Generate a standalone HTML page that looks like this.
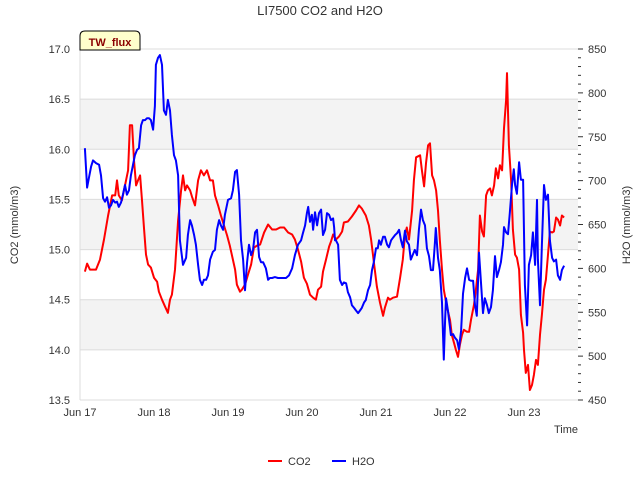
<!DOCTYPE html>
<html><head><meta charset="utf-8"><style>
body{margin:0;background:#fff;}
svg{display:block;font-family:"Liberation Sans",sans-serif;}
</style></head><body>
<svg width="640" height="480" id="chart">
<rect width="640" height="480" fill="#fff"/>
<text x="320" y="15" text-anchor="middle" font-size="13" fill="#333">LI7500 CO2 and H2O</text>
<g id="bands"></g>
<g id="axes"></g>
<g id="series"></g>
<g>
<path d="M80,50 L80,36 Q80,31 85,31 L135,31 Q140,31 140,36 L140,50 Z" fill="#ffffcc" stroke="#000" stroke-width="1"/>
<text x="110" y="46" text-anchor="middle" font-size="11" font-weight="bold" fill="#8b0000">TW_flux</text>
</g>
<text transform="translate(18,225) rotate(-90)" text-anchor="middle" font-size="11" fill="#333">CO2 (mmol/m3)</text>
<text transform="translate(630,225) rotate(-90)" text-anchor="middle" font-size="11" fill="#333">H2O (mmol/m3)</text>
<text x="578" y="433" text-anchor="end" font-size="11" fill="#333">Time</text>
<g>
<g><line x1="268" y1="461" x2="282" y2="461" stroke="#f00" stroke-width="2"/><text x="288" y="465" font-size="11" fill="#333">CO2</text></g>
<g><line x1="332" y1="461" x2="346" y2="461" stroke="#00f" stroke-width="2"/><text x="352" y="465" font-size="11" fill="#333">H2O</text></g>
</g>
</svg>
<script>
const xTicks=["Jun 17","Jun 18","Jun 19","Jun 20","Jun 21","Jun 22","Jun 23"];
const leftTicks=[13.5,14.0,14.5,15.0,15.5,16.0,16.5,17.0];
const rightTicks=[450,500,550,600,650,700,750,800,850];
const co2Hours=[1.6,2.3,3.2,5.2,6.5,7.8,9.1,10.4,11.4,12.0,12.6,13.6,14.6,15.6,16.2,16.9,17.5,18.2,18.8,19.5,20.1,20.8,21.4,22.1,23.0,24.0,25.0,25.6,26.6,27.6,28.5,29.2,29.8,30.8,31.8,32.8,33.4,34.1,34.7,35.7,36.3,37.3,38.3,39.2,40.2,41.2,42.2,43.1,43.8,44.8,45.7,46.7,47.7,48.6,49.6,50.3,50.9,51.9,52.5,53.5,54.5,55.5,56.4,57.4,58.4,59.7,61.0,62.3,63.6,64.9,66.2,67.5,68.8,69.7,70.7,71.7,72.6,73.6,74.6,75.6,76.5,77.2,78.2,78.8,79.8,80.8,81.4,82.1,83.0,84.0,85.0,85.6,86.9,88.2,89.5,90.5,91.4,92.7,93.7,94.4,95.3,96.3,97.3,98.3,98.9,99.9,100.5,101.5,102.8,103.8,104.7,105.4,106.0,106.7,107.7,108.3,109.0,110.3,110.9,111.6,112.2,112.9,113.5,114.2,114.8,115.5,116.1,116.7,117.4,118.0,119.0,120.0,120.6,121.3,121.9,122.6,123.2,123.9,124.5,125.5,126.2,126.8,127.8,128.4,129.1,129.7,130.4,131.0,131.7,132.3,133.0,133.6,134.3,134.9,135.6,136.2,136.9,137.5,138.2,138.5,139.1,139.8,140.4,141.1,141.7,142.4,143.0,143.7,144.0,144.6,145.3,145.9,146.6,147.2,147.9,148.5,149.2,149.8,150.5,151.1,151.8,152.4,153.1,153.7,154.4,155.0,155.7,156.3,157.0];
const co2Values=[14.78,14.86,14.80,14.80,14.90,15.10,15.34,15.54,15.54,15.69,15.54,15.49,15.64,15.79,16.24,16.24,15.89,15.64,15.69,15.74,15.49,15.20,14.95,14.85,14.82,14.72,14.68,14.58,14.50,14.43,14.37,14.50,14.55,14.80,15.29,15.59,15.74,15.59,15.64,15.59,15.53,15.44,15.69,15.79,15.74,15.79,15.69,15.69,15.54,15.44,15.34,15.24,15.14,15.04,14.90,14.80,14.65,14.58,14.60,14.65,14.75,14.85,15.02,15.04,15.05,15.17,15.25,15.20,15.20,15.22,15.22,15.17,15.15,15.10,15.00,14.88,14.72,14.66,14.55,14.52,14.50,14.60,14.63,14.78,14.90,15.03,15.08,15.15,15.10,15.13,15.18,15.27,15.28,15.33,15.39,15.44,15.41,15.34,15.24,15.10,14.88,14.63,14.47,14.34,14.42,14.52,14.50,14.52,14.53,14.72,14.90,15.15,15.22,15.10,15.39,15.69,15.92,15.94,15.79,15.63,15.86,16.04,16.06,15.74,15.69,15.59,15.39,15.10,14.80,14.60,14.43,14.30,14.15,14.07,14.00,13.93,14.05,14.15,14.20,14.18,14.18,14.30,14.45,14.60,14.80,15.34,15.18,15.13,15.54,15.59,15.61,15.54,15.64,15.81,15.71,15.84,15.79,16.21,16.49,16.76,16.04,15.69,15.20,14.95,14.92,14.80,14.35,14.17,14.00,13.77,13.85,13.60,13.65,13.75,13.90,13.85,14.15,14.35,14.60,14.70,14.95,15.18,15.17,15.18,15.32,15.30,15.24,15.34,15.32];
const h2oHours=[1.6,2.3,2.9,3.6,4.2,5.2,6.2,6.8,7.5,8.1,8.8,9.4,10.1,10.7,11.4,12.0,12.6,13.3,13.9,14.6,15.2,15.9,16.5,17.2,17.8,18.5,19.1,19.8,20.4,21.1,21.7,22.4,23.0,23.7,24.3,24.6,25.3,25.9,26.6,27.2,27.9,28.5,29.2,29.8,30.5,31.1,31.8,32.4,33.4,34.4,35.0,35.7,36.3,37.0,37.6,38.3,38.9,39.6,40.2,40.9,41.5,42.2,43.1,43.8,44.4,45.1,45.7,46.4,47.0,48.0,49.0,49.6,50.3,50.9,51.6,52.2,52.9,53.5,54.2,54.8,55.5,56.1,56.8,57.4,58.1,58.7,59.4,60.3,61.0,61.6,62.3,63.2,64.2,65.5,66.8,67.8,68.8,69.7,70.7,71.7,72.3,73.0,73.6,74.0,74.6,75.2,75.6,76.2,76.9,77.5,78.2,78.8,79.5,80.1,80.8,81.4,82.1,82.4,82.7,83.0,83.7,84.3,85.0,85.6,86.3,86.9,87.6,88.2,88.9,89.5,90.2,90.8,91.4,92.1,92.7,93.4,94.1,94.7,95.3,96.0,96.6,97.0,97.6,98.3,98.9,99.6,100.2,100.9,101.5,102.2,102.8,103.5,104.1,104.7,105.4,106.0,106.7,107.3,108.0,108.6,109.3,109.9,110.6,111.2,111.9,112.5,113.2,113.8,114.5,115.1,115.4,116.1,116.7,117.4,118.0,118.4,118.7,119.3,120.0,120.3,121.0,121.6,122.3,122.9,123.6,124.2,124.9,125.5,126.2,126.8,127.5,128.1,128.7,129.1,129.4,130.0,130.7,131.3,132.0,132.6,133.3,133.9,134.6,135.2,135.9,136.5,137.2,137.5,138.2,138.8,139.4,140.1,140.7,141.1,141.7,142.4,143.0,143.7,144.3,145.0,145.6,146.3,146.9,147.6,148.2,148.5,149.2,149.8,150.5,151.1,151.8,152.4,153.1,153.7,154.4,155.0,155.7,156.3,157.0];
const h2oValues=[737,692,703,716,723,720,718,706,680,676,681,669,672,678,675,676,670,675,684,695,684,689,706,718,729,735,737,763,769,769,771,771,769,758,785,832,840,843,832,780,775,792,780,752,729,723,706,632,604,612,638,655,649,638,627,604,587,581,587,587,592,610,619,621,644,655,649,644,661,678,680,689,710,712,684,632,610,575,607,627,615,621,641,644,613,607,607,600,587,589,589,590,589,589,589,592,600,615,627,632,640,649,663,670,653,661,644,664,649,663,667,638,644,663,661,655,657,647,632,632,627,587,581,584,583,573,567,558,555,552,549,552,555,561,564,575,581,598,607,623,623,632,627,636,636,627,624,632,635,638,640,644,632,624,643,631,627,610,616,621,615,644,667,655,649,623,614,598,598,629,646,612,598,561,496,541,566,553,533,524,525,521,518,508,529,571,589,600,587,586,586,558,546,587,618,587,549,566,558,549,556,575,614,590,598,607,627,647,641,639,663,695,713,695,685,721,701,701,581,535,604,615,641,604,678,610,558,627,695,678,684,632,612,608,610,592,587,598,603];

const NS="http://www.w3.org/2000/svg";
const L=80,R=578,T=49,B=400;
const xS=h=>L+h*74/24;
const yL=v=>B-(v-13.5)/3.5*(B-T);
const yR=v=>B-(v-450)/400*(B-T);
function mk(tag,attrs,parent){const e=document.createElementNS(NS,tag);for(const k in attrs)e.setAttribute(k,attrs[k]);parent.appendChild(e);return e;}
const bands=document.getElementById('bands'),axes=document.getElementById('axes'),series=document.getElementById('series');
[[16.0,16.5],[15.0,15.5],[14.0,14.5]].forEach(b=>{
 const r=mk('rect',{x:L,y:yL(b[1]),width:R-L,height:yL(b[0])-yL(b[1]),fill:'#f3f3f3'},bands);
 
 
});
leftTicks.forEach(v=>{
 const g=mk('line',{x1:L,x2:R,y1:yL(v),y2:yL(v),stroke:'#dcdcdc','stroke-width':1},axes);
 
 
 const t=mk('text',{x:L-10,y:yL(v)+4,'text-anchor':'end','font-size':11,fill:'#333'},axes);
 t.textContent=v.toFixed(1);
 
 
});
const ax=mk('line',{x1:L,x2:L,y1:T,y2:B,stroke:'#dcdcdc','stroke-width':1},axes);


for(let v=450;v<=850;v+=10){
 const major=v%50===0;
 const tk=mk('line',{x1:R,x2:R+(major?5:3),y1:yR(v),y2:yR(v),stroke:'#333','stroke-width':1},axes);
 
 
}
rightTicks.forEach(v=>{
 const t=mk('text',{x:R+10,y:yR(v)+4,'font-size':11,fill:'#333'},axes);
 t.textContent=v;
 
 
});
xTicks.forEach((s,i)=>{
 const t=mk('text',{x:xS(i*24),y:416,'text-anchor':'middle','font-size':11,fill:'#333'},axes);
 t.textContent=s;
 
 
});
function line(hs,vs,ys,color,name){
 const d=hs.map((h,i)=>(i?'L':'M')+xS(h).toFixed(1)+','+ys(vs[i]).toFixed(1)).join('');
 const p=mk('path',{d:d,fill:'none',stroke:color,'stroke-width':2,'stroke-linejoin':'round'},series);
 
 
}
line(co2Hours,co2Values,yL,'#ff0000','co2-line');
line(h2oHours,h2oValues,yR,'#0000ff','h2o-line');
</script>
</body></html>
